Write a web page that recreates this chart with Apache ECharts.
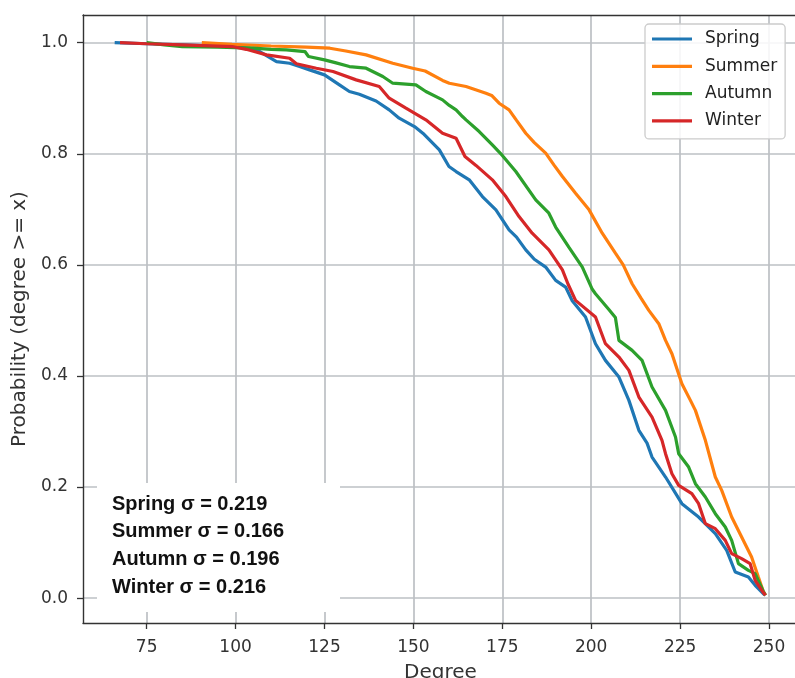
<!DOCTYPE html>
<html>
<head>
<meta charset="utf-8">
<script src="https://cdn.jsdelivr.net/npm/echarts@6/dist/echarts.min.js"></script>
<style>
html,body{margin:0;padding:0;background:#fff;}
#chart{width:795px;height:678px;}
</style>
</head>
<body>
<div id="chart"></div>
<script>
// ---- data (degree, P(degree >= x)) ----
const seasons = ['Spring', 'Summer', 'Autumn', 'Winter'];
const colors = ['#1f77b4', '#ff7f0e', '#2ca02c', '#d62728'];
const xTicks = [75, 100, 125, 150, 175, 200, 225, 250];
const yTicks = [0.0, 0.2, 0.4, 0.6, 0.8, 1.0];
const sigmaLines = ['Spring σ = 0.219', 'Summer σ = 0.166', 'Autumn σ = 0.196', 'Winter σ = 0.216'];

const spring = [[66,1.0],[75,0.998],[85,0.996],[99,0.993],[104,0.99],[106.8,0.984],[111.5,0.966],[115.2,0.963],[118,0.957],[120.8,0.951],[125,0.942],[129.2,0.924],[132,0.912],[134.8,0.907],[139.5,0.895],[143.2,0.879],[146,0.864],[150.3,0.849],[153,0.835],[157.3,0.807],[160,0.777],[162,0.768],[165.7,0.753],[169.4,0.723],[173.2,0.699],[176.9,0.663],[179,0.65],[181.6,0.627],[184,0.61],[187.2,0.596],[190,0.572],[192.8,0.560],[194.6,0.536],[198.4,0.506],[201.2,0.458],[204,0.428],[207.8,0.398],[210.6,0.356],[213.4,0.302],[215.7,0.279],[217.1,0.254],[220.9,0.218],[225.5,0.170],[230.2,0.146],[234.9,0.116],[238.1,0.086],[240.5,0.047],[244.2,0.038],[246.1,0.023],[248.4,0.008],[249,0.005]];
const summer = [[90.5,1.0],[99,0.997],[110,0.994],[120,0.992],[126.5,0.99],[131,0.985],[136.7,0.978],[144.2,0.963],[149.8,0.954],[153.3,0.949],[158.2,0.932],[160.1,0.927],[164.8,0.921],[170.4,0.909],[172,0.905],[174.1,0.891],[176.9,0.879],[179,0.86],[181.6,0.837],[184,0.82],[187.2,0.801],[189.5,0.78],[191.9,0.759],[195.6,0.729],[199.4,0.699],[203.1,0.657],[206.8,0.621],[209,0.6],[211.5,0.566],[214,0.54],[216.2,0.518],[219,0.494],[220.9,0.464],[222.7,0.440],[225.5,0.386],[227.9,0.356],[229.3,0.338],[232.1,0.284],[234.9,0.218],[236.7,0.194],[239.5,0.146],[242.3,0.110],[245.1,0.074],[247,0.038],[248.4,0.012],[249,0.005]];
const autumn = [[75,1.0],[80,0.996],[85,0.993],[95,0.992],[105,0.99],[110,0.988],[114.3,0.987],[119.5,0.984],[120.5,0.975],[125,0.969],[128,0.964],[132,0.957],[136.7,0.954],[141.4,0.939],[144.2,0.927],[150.7,0.924],[153.5,0.912],[158.2,0.897],[160.1,0.887],[162,0.879],[163.8,0.867],[164.8,0.861],[168.5,0.840],[172.2,0.816],[175,0.797],[178.8,0.768],[184.4,0.717],[188.1,0.693],[190,0.668],[193.7,0.632],[197.5,0.596],[200.3,0.556],[201.2,0.548],[204.9,0.520],[206.8,0.505],[207.8,0.464],[211.5,0.446],[214.3,0.428],[217.1,0.380],[220.9,0.338],[223.7,0.290],[224.6,0.260],[227.4,0.236],[229.3,0.206],[232.1,0.182],[234.9,0.152],[237.7,0.128],[239.5,0.104],[241.4,0.062],[244.2,0.050],[246.1,0.044],[248.4,0.012],[249,0.005]];
const winter = [[67.5,1.0],[75,0.998],[85,0.996],[99,0.993],[103,0.988],[108.7,0.978],[115.2,0.972],[117.1,0.962],[122.7,0.954],[127.4,0.948],[133.9,0.933],[140.4,0.921],[143.2,0.9],[147.9,0.882],[153.5,0.861],[158.2,0.837],[162,0.828],[164.5,0.795],[167.6,0.779],[172.2,0.753],[176,0.723],[179.7,0.687],[183.4,0.657],[188.1,0.627],[191.9,0.591],[193.5,0.565],[195.6,0.536],[201.2,0.506],[204,0.458],[207.8,0.434],[210.6,0.410],[213.4,0.362],[217.1,0.326],[219.9,0.284],[220.9,0.260],[222.7,0.224],[224.6,0.203],[228.3,0.188],[230.2,0.170],[232.1,0.134],[234.9,0.125],[237.7,0.104],[239.5,0.080],[242.3,0.071],[244.7,0.062],[246.1,0.032],[248.4,0.010],[249,0.005]];
const seriesData = [spring, summer, autumn, winter];

// ---- chart ----
const chart = echarts.init(document.getElementById('chart'), null, {renderer: 'canvas'});
const textColor = '#333';
const spineColor = '#333';
const gridColor = '#bcc0c4';
const tickFont = 'DejaVu Sans';

const option = {
  backgroundColor: '#ffffff',
  animation: false,
  grid: {left: 83, top: 15, width: 715, height: 608, show: false, containLabel: false, outerBoundsMode: 'none'},
  xAxis: [{
    type: 'value', min: 57.09, max: 258.15,
    name: 'Degree', nameLocation: 'middle', nameGap: 40,
    nameTextStyle: {fontFamily: tickFont, fontSize: 20, color: textColor},
    axisLine: {show: true, onZero: false, lineStyle: {color: spineColor, width: 1.4}},
    axisTick: {show: true, inside: false, length: 6, customValues: xTicks, lineStyle: {color: spineColor, width: 1.3}},
    axisLabel: {customValues: xTicks, margin: 16, fontFamily: tickFont, fontSize: 17, color: textColor, formatter: v => String(v)},
    splitLine: {show: true, lineStyle: {color: gridColor, width: 1.7}}
  }, {
    type: 'value', position: 'top', min: 57.09, max: 258.15,
    axisLine: {show: true, onZero: false, lineStyle: {color: spineColor, width: 1.4}},
    axisTick: {show: false}, axisLabel: {show: false}, splitLine: {show: false}
  }],
  yAxis: {
    type: 'value', min: -0.0448, max: 1.0498,
    name: 'Probability (degree >= x)', nameLocation: 'middle', nameGap: 50, nameRotate: 90,
    nameTextStyle: {fontFamily: tickFont, fontSize: 20, color: textColor},
    axisLine: {show: true, onZero: false, lineStyle: {color: spineColor, width: 1.4}},
    axisTick: {show: true, inside: false, length: 6, customValues: yTicks, lineStyle: {color: spineColor, width: 1.3}},
    axisLabel: {customValues: yTicks, margin: 15, fontFamily: tickFont, fontSize: 17, color: textColor, formatter: v => v.toFixed(1)},
    splitLine: {show: true, lineStyle: {color: gridColor, width: 1.7}}
  },
  legend: {
    orient: 'vertical', left: 645, top: 24,
    padding: [5, 8, 8, 7], itemGap: 7.3, itemWidth: 40, itemHeight: 20,
    icon: 'path://M0,0H40V3.2H0Z',
    backgroundColor: 'rgba(255,255,255,0.85)', borderColor: '#cccccc', borderWidth: 1.3, borderRadius: 4,
    textStyle: {fontFamily: tickFont, fontSize: 17, color: '#222', lineHeight: 20, padding: [0, 0, 0, 8]},
    data: seasons
  },
  graphic: [
    {type: 'rect', left: 97, top: 483, z: 100, shape: {x: 0, y: 0, width: 243, height: 129}, style: {fill: '#ffffff'}}
  ].concat(sigmaLines.map((t, i) => ({
    type: 'text', left: 112, top: 494 + i * 27.7, z: 101,
    style: {text: t, fontFamily: 'Liberation Sans', fontWeight: 'bold', fontSize: 20, fill: '#111'}
  }))),
  series: seasons.map((s, i) => ({
    name: s, type: 'line', data: seriesData[i], symbol: 'none', showSymbol: false,
    lineStyle: {color: colors[i], width: 3.2}, itemStyle: {color: colors[i]}
  }))
};
chart.setOption(option);
</script>
</body>
</html>
